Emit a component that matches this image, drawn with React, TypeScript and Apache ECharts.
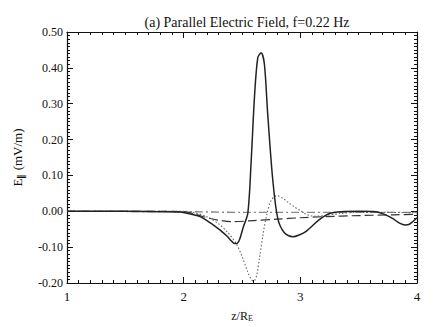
import React, { useEffect, useRef } from "react";
import * as echarts from "echarts";

const titleText = "(a) Parallel Electric Field, f=0.22 Hz";

const solidX = [1.0, 1.5, 1.8, 1.97, 2.05, 2.14, 2.25, 2.31, 2.37, 2.41, 2.435, 2.455, 2.48, 2.51, 2.55, 2.578, 2.607, 2.635, 2.664, 2.692, 2.72, 2.763, 2.806, 2.863, 2.934, 2.99, 3.05, 3.16, 3.25, 3.35, 3.5, 3.65, 3.73, 3.79, 3.85, 3.9, 3.93, 3.96, 4.0];
const solidY = [0, 0, -0.001, -0.002, -0.007, -0.015, -0.037, -0.052, -0.069, -0.083, -0.09, -0.09, -0.078, -0.045, -0.005, 0.136, 0.319, 0.428, 0.442, 0.41, 0.273, 0.09, -0.019, -0.06, -0.071, -0.066, -0.056, -0.024, -0.006, -0.001, 0, -0.001, -0.01, -0.02, -0.033, -0.038, -0.037, -0.03, -0.018];

const dottedX = [1.0, 1.5, 2.0, 2.1, 2.2, 2.3, 2.38, 2.45, 2.5, 2.55, 2.58, 2.6, 2.625, 2.65, 2.68, 2.712, 2.75, 2.8, 2.85, 2.9, 2.95, 3.0, 3.05, 3.12, 3.2, 3.35, 3.5, 3.7, 4.0];
const dottedY = [0, 0, 0, -0.005, -0.015, -0.035, -0.06, -0.09, -0.125, -0.17, -0.19, -0.195, -0.18, -0.13, -0.065, -0.01, 0.03, 0.044, 0.036, 0.024, 0.012, 0.002, -0.008, -0.014, -0.012, -0.006, -0.003, -0.003, -0.004];

const dashedX = [1.0, 1.5, 2.0, 2.1, 2.2, 2.3, 2.42, 2.6, 2.8, 3.0, 3.2, 3.5, 3.8, 4.0];
const dashedY = [0, 0, -0.001, -0.008, -0.018, -0.025, -0.029, -0.026, -0.022, -0.018, -0.015, -0.012, -0.01, -0.008];

const dashDotX = [1.0, 2.0, 2.5, 3.0, 3.5, 4.0];
const dashDotY = [0, -0.001, -0.003, -0.003, -0.003, -0.003];

const xTicks = [1, 2, 3, 4];
const yTicks = [-0.2, -0.1, 0.0, 0.1, 0.2, 0.3, 0.4, 0.5];

const pair = (xs: number[], ys: number[]) => xs.map((x, i) => [x, ys[i]]);

const FONT = "Liberation Serif, Times New Roman, serif";

export default function App() {
  const ref = useRef<HTMLDivElement>(null);
  useEffect(() => {
    if (!ref.current) return;
    const chart = echarts.init(ref.current, undefined, { renderer: "svg" });
    const axisCommon = {
      type: "value" as const,
      axisLine: { show: true, onZero: false, lineStyle: { color: "#111", width: 1.2 } },
      axisTick: { show: true, inside: true, length: 6, lineStyle: { color: "#111" } },
      minorTick: { show: true, splitNumber: 10, length: 3, lineStyle: { color: "#111" } },
      splitLine: { show: false },
      minorSplitLine: { show: false },
    };
    chart.setOption({
      animation: false,
      backgroundColor: "#fff",
      title: {
        text: titleText,
        left: 242,
        textAlign: "center",
        top: 10,
        textStyle: { fontFamily: FONT, fontSize: 14, fontWeight: "normal", color: "#111" },
      },
      grid: { left: 67, right: 17, top: 32, bottom: 41 },
      xAxis: [
        {
          ...axisCommon,
          position: "bottom",
          min: xTicks[0],
          max: xTicks[xTicks.length - 1],
          interval: 1,
          axisLabel: { fontFamily: FONT, fontSize: 13, color: "#111", margin: 7, formatter: (v: number) => String(v) },
          name: "{a|z/R}{b|E}",
          nameLocation: "middle",
          nameGap: 26,
          nameTextStyle: {
            rich: {
              a: { fontFamily: FONT, fontSize: 12, color: "#111" },
              b: { fontFamily: FONT, fontSize: 8, color: "#111", verticalAlign: "bottom", padding: [5, 0, 0, 0] },
            },
          },
        },
        {
          ...axisCommon,
          position: "top",
          min: xTicks[0],
          max: xTicks[xTicks.length - 1],
          interval: 1,
          axisLabel: { show: false },
        },
      ],
      yAxis: [
        {
          ...axisCommon,
          position: "left",
          min: yTicks[0],
          max: yTicks[yTicks.length - 1],
          interval: 0.1,
          axisLabel: {
            fontFamily: FONT,
            fontSize: 12,
            color: "#111",
            margin: 4,
            formatter: (v: number) => (Math.abs(v) < 1e-9 ? "0.00" : v.toFixed(2)),
          },
          name: "{a|E}{b|∥} (mV/m)",
          nameLocation: "middle",
          nameGap: 42,
          nameRotate: 90,
          nameTextStyle: {
            fontFamily: FONT,
            fontSize: 13,
            color: "#111",
            rich: {
              a: { fontFamily: FONT, fontSize: 13, color: "#111" },
              b: { fontFamily: FONT, fontSize: 9, color: "#111", fontWeight: "bold", padding: [6, 0, 0, 0] },
            },
          },
        },
        {
          ...axisCommon,
          position: "right",
          min: yTicks[0],
          max: yTicks[yTicks.length - 1],
          interval: 0.1,
          axisLabel: { show: false },
        },
      ],
      series: [
        {
          type: "line",
          data: pair(dashDotX, dashDotY),
          showSymbol: false,
          smooth: 0.3,
          lineStyle: { color: "#888", width: 1.4, type: [8, 3, 2, 3] },
        },
        {
          type: "line",
          data: pair(dashedX, dashedY),
          showSymbol: false,
          smooth: 0.3,
          lineStyle: { color: "#333", width: 1.2, type: [9, 4] },
        },
        {
          type: "line",
          data: pair(dottedX, dottedY),
          showSymbol: false,
          smooth: 0.3,
          lineStyle: { color: "#666", width: 1.1, type: [1.5, 2] },
        },
        {
          type: "line",
          data: pair(solidX, solidY),
          showSymbol: false,
          smooth: 0.3,
          lineStyle: { color: "#222", width: 1.5, type: "solid" },
        },
      ],
    });
    return () => chart.dispose();
  }, []);
  return <div ref={ref} style={{ width: 434, height: 327, position: "fixed", left: 0, top: 0, background: "#fff" }} />;
}
